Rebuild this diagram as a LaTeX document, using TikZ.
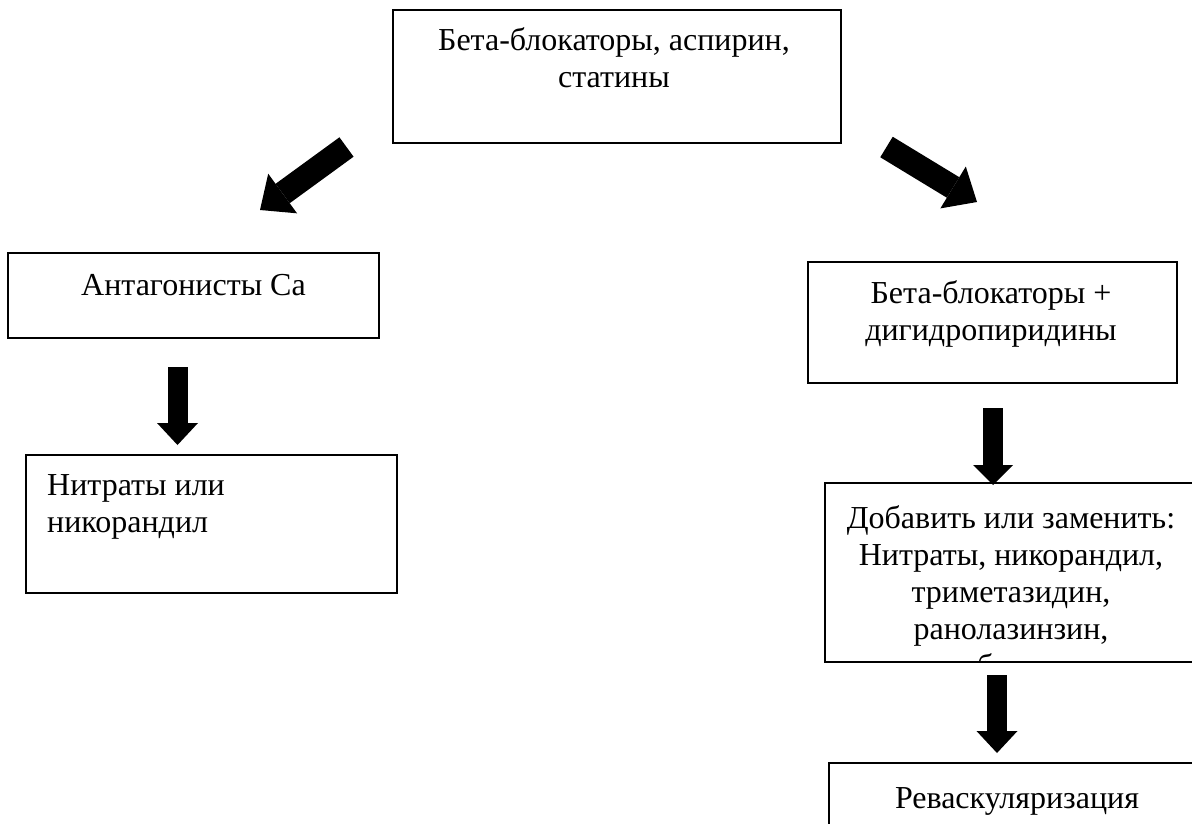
\documentclass[tikz,border=0pt]{standalone}
\usepackage{fontspec}
\setmainfont{Liberation Serif}
\usetikzlibrary{arrows.meta}
\tikzset{
  boxnode/.style={draw=black, line width=1.6pt, rectangle, inner sep=0pt},
  txt/.style={inner sep=0pt, font=\fontsize{32}{37}\selectfont, align=center, anchor=base},
  txtl/.style={inner sep=0pt, font=\fontsize{32}{37}\selectfont, align=left, anchor=base west},
  bigdiag/.style={line width=24pt, -{Triangle[length=28pt, width=49pt, line width=0pt]}},
  bigdown/.style={line width=20pt, -{Triangle[length=22pt, width=41pt, line width=0pt]}},
}
\begin{document}
\begin{tikzpicture}[x=1pt, y=-1pt]
\useasboundingbox (0,0) rectangle (1192,823);
\fill[white] (0,0) rectangle (1192,823);
\begin{scope}
\clip (0,0) rectangle (1192,823);
% boxes
\node[boxnode, minimum width=448pt, minimum height=133pt] (top) at (617,76.5) {};
\node[boxnode, minimum width=371pt, minimum height=85pt] (antag) at (193.5,295.5) {};
\node[boxnode, minimum width=371pt, minimum height=138pt] (nitr) at (211.5,524) {};
\node[boxnode, minimum width=369pt, minimum height=121pt] (bb) at (992.5,322.5) {};
\node[boxnode, minimum width=372pt, minimum height=179pt] (add) at (1011,572.5) {};
\node[boxnode, minimum width=376pt, minimum height=80pt] (rev) at (1017,803) {};
% texts (base anchor = baseline of the last line)
\node[txt] (toptxt) at (614,87) {Бета-блокаторы, аспирин,\\статины};
\node[txt] (antagtxt) at (193.5,295) {Антагонисты Са};
\node[txtl] (nitrtxt) at (47,532) {Нитраты или\\никорандил};
\node[txt] (bbtxt) at (991,340) {Бета-блокаторы +\\дигидропиридины};
\begin{scope}
\clip (826,484) rectangle (1196,661);
\node[txt] (addtxt) at (1011,639) {Добавить или заменить:\\Нитраты, никорандил,\\триметазидин,\\ранолазинзин,};
\node[txtl] (addcut) at (977,676) {б};
\end{scope}
\node[txt] (revtxt) at (1017,808) {Реваскуляризация};
% arrow end points
\coordinate (a1s) at (346.5,147);
\coordinate (a1e) at (260,210);
\coordinate (a2s) at (886.5,147);
\coordinate (a2e) at (977,202);
\coordinate (a3s) at (177.5,367);
\coordinate (a3e) at (177.5,445);
\coordinate (a4s) at (993,408);
\coordinate (a4e) at (993,485);
\coordinate (a5s) at (997,675);
\coordinate (a5e) at (997,753);
\draw[bigdiag] (a1s) -- (a1e);
\draw[bigdiag] (a2s) -- (a2e);
\draw[bigdown] (a3s) -- (a3e);
\draw[bigdown, -{Triangle[length=20pt, width=40pt, line width=0pt]}] (a4s) -- (a4e);
\draw[bigdown] (a5s) -- (a5e);
\end{scope}
\end{tikzpicture}
\end{document}
